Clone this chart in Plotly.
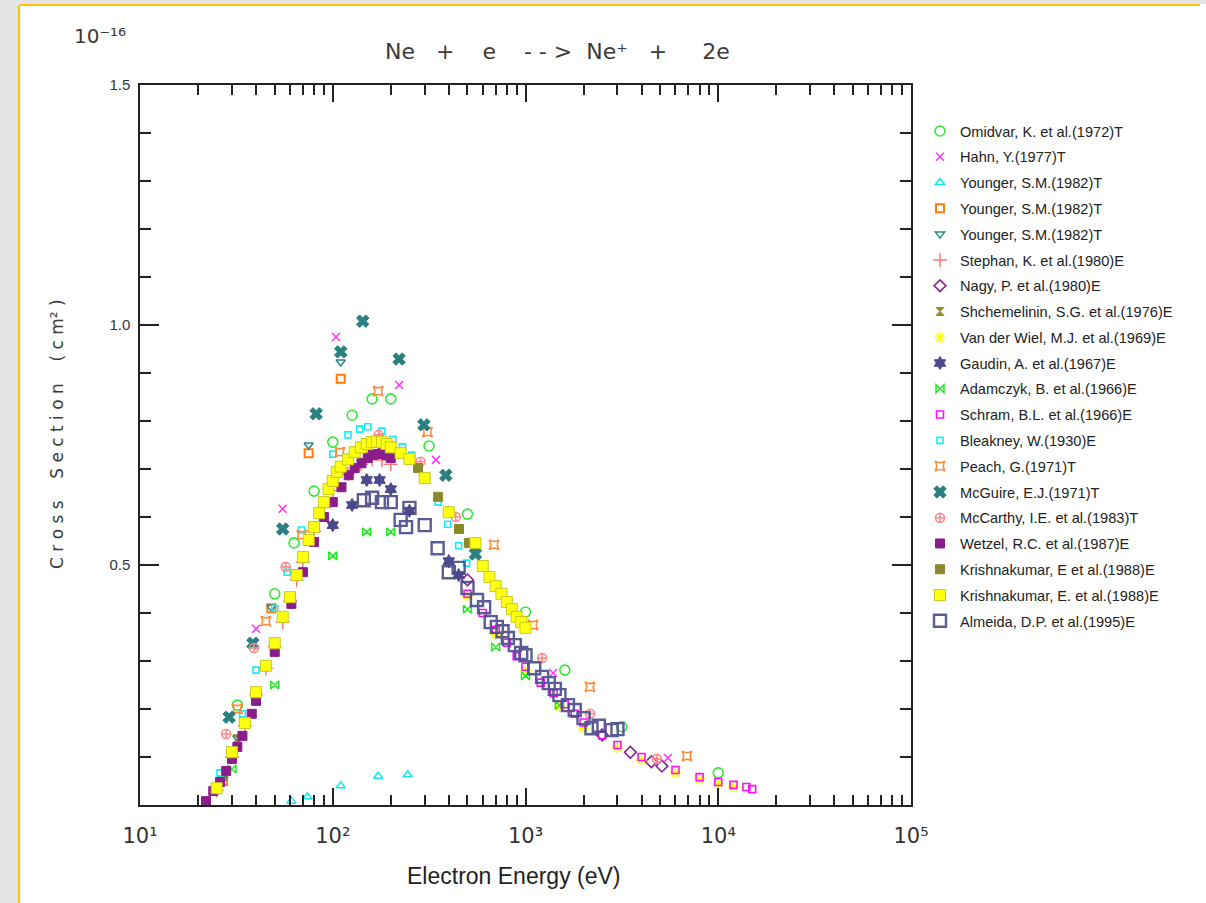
import plotly.graph_objects as go

# ---------------- data ----------------
omidvar_E = [32, 50, 63, 80, 100, 126, 160, 200, 316, 500, 1000, 1600, 3160, 10000]
omidvar_s = [0.208, 0.440, 0.546, 0.654, 0.756, 0.812, 0.846, 0.846, 0.748, 0.606, 0.402, 0.281, 0.163, 0.067]

hahn_E = [40, 55, 104, 221, 343, 1390, 5480]
hahn_s = [0.367, 0.617, 0.975, 0.875, 0.719, 0.275, 0.098]

younger1_E = [61, 74, 110, 172, 245]
younger1_s = [0.008, 0.017, 0.040, 0.060, 0.063]

younger2_E = [27, 48, 75, 110]
younger2_s = [0.050, 0.410, 0.733, 0.888]

younger3_E = [27, 32, 48, 75, 110]
younger3_s = [0.054, 0.140, 0.412, 0.750, 0.923]

stephan_E = [25, 30, 35, 40, 45, 50, 55, 60, 65, 70, 80, 90, 100, 120, 140, 160, 180, 200]
stephan_s = [0.030, 0.100, 0.165, 0.230, 0.285, 0.330, 0.381, 0.425, 0.469, 0.505, 0.570, 0.620, 0.655, 0.690, 0.710, 0.720, 0.719, 0.710]

nagy_E = [500, 2500, 3500, 4500, 5100]
nagy_s = [0.469, 0.146, 0.110, 0.090, 0.081]

shchem_E = [32, 550]
shchem_s = [0.138, 0.525]

vdwiel_E = [500, 700, 1000, 1500, 2000, 3000, 4000, 6000, 8000, 10000, 12000]
vdwiel_s = [0.435, 0.355, 0.280, 0.205, 0.160, 0.119, 0.094, 0.067, 0.054, 0.044, 0.038]

gaudin_E = [100, 126, 150, 175, 200, 250, 400, 450]
gaudin_s = [0.583, 0.625, 0.677, 0.677, 0.658, 0.613, 0.508, 0.479]

adamczyk_E = [30, 50, 100, 150, 200, 500, 700, 1000, 1500]
adamczyk_s = [0.075, 0.250, 0.519, 0.569, 0.569, 0.408, 0.329, 0.269, 0.208]

schram_E = [500, 600, 700, 800, 900, 1000, 1200, 1400, 1600, 1800, 2000, 2500, 3000, 4000, 6000, 8000, 10000, 12000, 14000, 15000]
schram_s = [0.440, 0.400, 0.365, 0.338, 0.310, 0.288, 0.255, 0.233, 0.210, 0.190, 0.172, 0.145, 0.125, 0.100, 0.073, 0.058, 0.048, 0.042, 0.0375, 0.033]

bleakney_E = [26, 34, 40, 50, 58, 69, 100, 120, 138, 152, 180, 205, 230, 257, 352, 395, 450, 495]
bleakney_s = [0.067, 0.190, 0.281, 0.410, 0.485, 0.573, 0.731, 0.771, 0.783, 0.788, 0.779, 0.762, 0.746, 0.729, 0.631, 0.585, 0.540, 0.504]

peach_E = [32, 45, 69, 109, 172, 310, 687, 1093, 2160, 6880]
peach_s = [0.200, 0.383, 0.562, 0.735, 0.862, 0.777, 0.542, 0.375, 0.246, 0.102]

mcguire_E = [29, 38.5, 55, 82, 110, 143, 221, 297, 386, 550]
mcguire_s = [0.183, 0.337, 0.575, 0.815, 0.944, 1.008, 0.929, 0.792, 0.687, 0.523]

mccarthy_E = [28, 39, 57, 173, 285, 435, 1220, 2160, 4810]
mccarthy_s = [0.148, 0.327, 0.496, 0.771, 0.715, 0.600, 0.306, 0.190, 0.096]

wetzel_E = [22, 24, 26, 28, 30, 32, 34, 38, 40, 50, 61, 70, 80, 90, 100, 111, 121, 130, 141, 152, 161, 171, 181, 190, 200]
wetzel_s = [0.008, 0.029, 0.048, 0.071, 0.096, 0.121, 0.144, 0.190, 0.217, 0.319, 0.419, 0.485, 0.548, 0.600, 0.631, 0.662, 0.687, 0.702, 0.712, 0.723, 0.729, 0.731, 0.733, 0.729, 0.723]

krishE_E = [277, 352, 452, 509]
krishE_s = [0.702, 0.642, 0.575, 0.546]

krishY_E = [25, 30, 35, 40, 45, 50, 55, 60, 65, 70, 75, 80, 85, 90, 95, 100, 105, 110, 120, 130, 140, 150, 160, 170, 180, 190, 200, 225, 250, 300, 400, 550, 600, 650, 700, 750, 800, 850, 900, 950, 1000]
krishY_s = [0.035, 0.110, 0.171, 0.235, 0.290, 0.337, 0.392, 0.433, 0.479, 0.517, 0.552, 0.579, 0.608, 0.631, 0.658, 0.675, 0.694, 0.705, 0.720, 0.735, 0.745, 0.752, 0.756, 0.757, 0.756, 0.752, 0.745, 0.733, 0.721, 0.681, 0.610, 0.546, 0.498, 0.475, 0.456, 0.440, 0.423, 0.408, 0.392, 0.381, 0.369]

almeida_E = [145, 160, 180, 200, 225, 240, 250, 300, 350, 400, 450, 500, 560, 610, 660, 710, 760, 810, 880, 950, 1000, 1110, 1220, 1320, 1420, 1500, 1660, 1800, 2000, 2200, 2400, 2800, 3000]
almeida_s = [0.635, 0.640, 0.631, 0.631, 0.594, 0.579, 0.619, 0.583, 0.535, 0.485, 0.494, 0.452, 0.427, 0.412, 0.381, 0.371, 0.362, 0.348, 0.333, 0.317, 0.312, 0.285, 0.267, 0.254, 0.242, 0.229, 0.208, 0.198, 0.181, 0.160, 0.165, 0.156, 0.158]

x_tick_vals = [10, 100, 1000, 10000, 100000]
x_tick_text = ["10\u00b9", "10\u00b2", "10\u00b3", "10\u2074", "10\u2075"]
x_minor_vals = [20, 30, 40, 50, 60, 70, 80, 90,
                200, 300, 400, 500, 600, 700, 800, 900,
                2000, 3000, 4000, 5000, 6000, 7000, 8000, 9000,
                20000, 30000, 40000, 50000, 60000, 70000, 80000, 90000]
y_tick_vals = [0.5, 1.0, 1.5]
y_tick_text = ["0.5", "1.0", "1.5"]
y_minor_vals = [0.1, 0.2, 0.3, 0.4, 0.6, 0.7, 0.8, 0.9, 1.1, 1.2, 1.3, 1.4]

series = [
    ("Omidvar, K. et al.(1972)T", omidvar_E, omidvar_s, "circle-open", "#33e833", 10, 1.6),
    ("Hahn, Y.(1977)T", hahn_E, hahn_s, "x-thin-open", "#ff30ff", 8, 1.5),
    ("Younger, S.M.(1982)T", younger1_E, younger1_s, "triangle-up-open", "#10e8f0", 8, 1.5),
    ("Younger, S.M.(1982)T", younger2_E, younger2_s, "square-open", "#ff7a10", 8, 2),
    ("Younger, S.M.(1982)T", younger3_E, younger3_s, "triangle-down-open", "#2a8a86", 8, 1.5),
    ("Stephan, K. et al.(1980)E", stephan_E, stephan_s, "cross-thin-open", "#ff7878", 10, 1.5),
    ("Nagy, P. et al.(1980)E", nagy_E, nagy_s, "diamond-open", "#8a1f8f", 9, 1.6),
    ("Shchemelinin, S.G. et al.(1976)E", shchem_E, shchem_s, "hourglass", "#8a8a2a", 8, 1),
    ("Van der Wiel, M.J. et al.(1969)E", vdwiel_E, vdwiel_s, "asterisk-open", "#ffff00", 9, 1.6),
    ("Gaudin, A. et al.(1967)E", gaudin_E, gaudin_s, "hexagram", "#4b4a8c", 10, 1),
    ("Adamczyk, B. et al.(1966)E", adamczyk_E, adamczyk_s, "bowtie-open", "#22e822", 8, 1.5),
    ("Schram, B.L. et al.(1966)E", schram_E, schram_s, "square-open", "#ff10ff", 7, 1.6),
    ("Bleakney, W.(1930)E", bleakney_E, bleakney_s, "square-open", "#10f0f8", 6, 1.6),
    ("Peach, G.(1971)T", peach_E, peach_s, "star-square-open", "#ff8a3a", 9, 1.6),
    ("McGuire, E.J.(1971)T", mcguire_E, mcguire_s, "x", "#2a8080", 11, 1),
    ("McCarthy, I.E. et al.(1983)T", mccarthy_E, mccarthy_s, "circle-cross-open", "#ff8a8a", 9, 1.6),
    ("Wetzel, R.C. et al.(1987)E", wetzel_E, wetzel_s, "square", "#8b1c8b", 9, 1),
    ("Krishnakumar, E et al.(1988)E", krishE_E, krishE_s, "square", "#8a8a2c", 9, 1),
    ("Krishnakumar, E. et al.(1988)E", krishY_E, krishY_s, "square", "#ffff10", 11, 1),
    ("Almeida, D.P. et al.(1995)E", almeida_E, almeida_s, "square-open", "#4a4a8a", 12, 2.4),
]

fig = go.Figure()
for i, (name, E, s, sym, col, size, lw) in enumerate(series):
    line_col = col
    if name.startswith("Krishnakumar, E. "):
        line_col = "#c8c820"
    fig.add_trace(go.Scatter(
        x=E, y=s, mode="markers", name=name, legendgroup="g%d" % i,
        marker=dict(symbol=sym, size=size, color=col,
                    line=dict(color=line_col, width=lw)),
        opacity=0.9 if name.startswith("Almeida") else 1.0,
    ))

# ---------------- layout ----------------
W, H = 1206, 903
L, R, T, B = 140, 911, 85, 805


def px_x(p):
    return (p - L) / (R - L)


def px_y(p):
    return (B - p) / (B - T)


fig.update_layout(
    width=W, height=H,
    margin=dict(l=L, r=W - R, t=T, b=H - B, autoexpand=False),
    paper_bgcolor="white", plot_bgcolor="white",
    showlegend=True,
    legend=dict(x=px_x(920), y=px_y(115), xanchor="left", yanchor="top",
                font=dict(family="Liberation Sans, Arial", size=14.6, color="#222"),
                tracegroupgap=3.8, bgcolor="rgba(0,0,0,0)", borderwidth=0,
                itemsizing="trace"),
    font=dict(family="Liberation Sans, Arial", color="#222"),
)

fig.update_xaxes(
    type="log", range=[1, 5], showgrid=False, zeroline=False,
    showline=True, linecolor="#222", linewidth=1.5, mirror="allticks",
    ticks="inside", ticklen=17, tickwidth=2, tickcolor="#222",
    tickvals=x_tick_vals, ticktext=x_tick_text,
    tickfont=dict(family="DejaVu Sans", size=21, color="#333"),
    ticklabelstandoff=11,
    minor=dict(tickvals=x_minor_vals, ticks="inside", ticklen=10, tickwidth=2, tickcolor="#222", showgrid=False),
)
fig.update_yaxes(
    range=[0, 1.5], showgrid=False, zeroline=False,
    showline=True, linecolor="#222", linewidth=1.5, mirror="allticks",
    ticks="inside", ticklen=19, tickwidth=2, tickcolor="#222",
    tickvals=y_tick_vals, ticktext=y_tick_text,
    tickfont=dict(family="Liberation Sans, Arial", size=15, color="#334"),
    ticklabelstandoff=5,
    minor=dict(tickvals=y_minor_vals, ticks="inside", ticklen=11, tickwidth=2, tickcolor="#222", showgrid=False),
)

ann = []
ann.append(dict(x=px_x(557), y=px_y(52), xref="paper", yref="paper", showarrow=False,
                xanchor="center", yanchor="middle",
                text="Ne   +    e    - - >  Ne\u207a   +     2e",
                font=dict(family="DejaVu Sans", size=22, color="#3a3a3a")))
ann.append(dict(x=px_x(100), y=px_y(36), xref="paper", yref="paper", showarrow=False,
                xanchor="center", yanchor="middle",
                text="10\u207b\u00b9\u2076",
                font=dict(family="DejaVu Sans", size=20, color="#3a3a3a")))
ann.append(dict(x=px_x(57), y=px_y(434), xref="paper", yref="paper", showarrow=False,
                xanchor="center", yanchor="middle", textangle=-90,
                text="C r o s s    S e c t i o n    ( c m\u00b2 )",
                font=dict(family="DejaVu Sans", size=17, color="#3a3a3a")))
ann.append(dict(x=px_x(513), y=px_y(876), xref="paper", yref="paper", showarrow=False,
                xanchor="center", yanchor="middle",
                text="Electron Energy (eV)",
                font=dict(family="Liberation Sans, Arial", size=23, color="#222")))
fig.update_layout(annotations=ann)

# page frame decoration (grey margin and orange border)
shapes = [
    dict(type="rect", xref="paper", yref="paper", x0=px_x(0), x1=px_x(18), y0=px_y(H), y1=px_y(0),
         fillcolor="#e4e4e4", line=dict(width=0), layer="above"),
    dict(type="rect", xref="paper", yref="paper", x0=px_x(0), x1=px_x(W), y0=px_y(4), y1=px_y(0),
         fillcolor="#e4e4e4", line=dict(width=0), layer="above"),
    dict(type="line", xref="paper", yref="paper", x0=px_x(19), x1=px_x(19), y0=px_y(H), y1=px_y(5),
         line=dict(color="#ffc000", width=2), layer="above"),
    dict(type="line", xref="paper", yref="paper", x0=px_x(19), x1=px_x(1200), y0=px_y(5), y1=px_y(5),
         line=dict(color="#ffc000", width=2), layer="above"),
]
fig.update_layout(shapes=shapes)

fig.write_html("out.html",
               config={"displayModeBar": False},
               post_script="document.body.style.margin='0px';document.body.style.overflow='hidden';")
